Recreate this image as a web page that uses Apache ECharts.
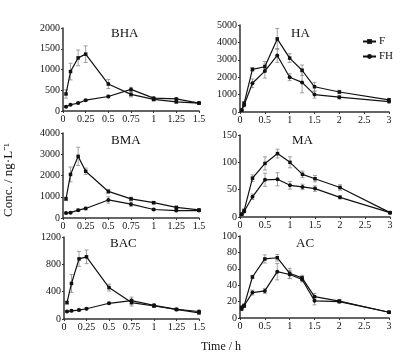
<!DOCTYPE html>
<html><head><meta charset="utf-8">
<script src="https://cdn.jsdelivr.net/npm/echarts@6/dist/echarts.min.js"></script>
<style>html,body{margin:0;padding:0;background:#fff}#c{width:400px;height:356px}</style>
</head><body><div id="c"></div>
<script>
// Time points (h)
const tShort = [0.033, 0.083, 0.167, 0.25, 0.5, 0.75, 1, 1.25, 1.5];
const tLong = [0.033, 0.083, 0.25, 0.5, 0.75, 1, 1.25, 1.5, 2, 3];
const xTicksShort = ['0', '0.25', '0.5', '0.75', '1', '1.25', '1.5'];
const xTicksLong = ['0', '0.5', '1', '1.5', '2', '2.5', '3'];

// BHA
const BHA_F = [410, 950, 1280, 1370, 650, 400, 280, 220, 190];
const BHA_F_sd = [100, 200, 190, 200, 110, 60, 40, 30, 20];
const BHA_FH = [100, 150, 190, 260, 350, 520, 310, 290, 190];
const BHA_FH_sd = [20, 20, 20, 20, 30, 50, 30, 30, 20];
// HA
const HA_F = [100, 500, 2450, 2600, 4200, 3100, 2400, 1450, 1150, 700];
const HA_F_sd = [50, 100, 100, 300, 600, 250, 300, 250, 100, 80];
const HA_FH = [100, 400, 1650, 2350, 3250, 2000, 1700, 1000, 850, 600];
const HA_FH_sd = [50, 100, 250, 400, 400, 200, 600, 200, 100, 80];
// BMA
const BMA_F = [900, 2050, 2900, 2200, 1250, 900, 720, 500, 380];
const BMA_F_sd = [80, 350, 430, 150, 100, 80, 60, 50, 40];
const BMA_FH = [230, 250, 370, 450, 850, 650, 400, 350, 350];
const BMA_FH_sd = [40, 40, 50, 60, 150, 100, 50, 50, 40];
// MA
const MA_F = [5, 12, 71, 98, 116, 100, 78, 70, 54, 8];
const MA_F_sd = [1, 2, 6, 12, 8, 10, 6, 6, 5, 1];
const MA_FH = [5, 10, 37, 68, 69, 58, 55, 52, 36, 8];
const MA_FH_sd = [1, 2, 5, 12, 12, 7, 5, 5, 3, 1];
// BAC
const BAC_F = [240, 520, 880, 910, 460, 240, 190, 140, 90];
const BAC_F_sd = [20, 130, 110, 100, 50, 50, 20, 15, 15];
const BAC_FH = [110, 120, 130, 150, 230, 270, 200, 140, 110];
const BAC_FH_sd = [15, 15, 15, 15, 15, 50, 20, 15, 15];
// AC
const AC_F = [13, 15, 50, 72, 73.5, 54.5, 49, 26, 20.5, 7];
const AC_F_sd = [2, 2, 2, 5, 4, 6, 3, 4, 2, 1];
const AC_FH = [11, 15, 31, 33, 56.5, 53, 47, 21, 20, 7];
const AC_FH_sd = [2, 2, 3, 3, 10, 5, 3, 5, 2, 1];

const titles = ['BHA', 'HA', 'BMA', 'MA', 'BAC', 'AC'];
const yMax = [2000, 5000, 4000, 150, 1200, 100];
const yStep = [500, 1000, 1000, 50, 400, 20];

const panels = [
  {t: tShort, F: BHA_F, Fs: BHA_F_sd, H: BHA_FH, Hs: BHA_FH_sd},
  {t: tLong, F: HA_F, Fs: HA_F_sd, H: HA_FH, Hs: HA_FH_sd},
  {t: tShort, F: BMA_F, Fs: BMA_F_sd, H: BMA_FH, Hs: BMA_FH_sd},
  {t: tLong, F: MA_F, Fs: MA_F_sd, H: MA_FH, Hs: MA_FH_sd},
  {t: tShort, F: BAC_F, Fs: BAC_F_sd, H: BAC_FH, Hs: BAC_FH_sd},
  {t: tLong, F: AC_F, Fs: AC_F_sd, H: AC_FH, Hs: AC_FH_sd}
];

const grids = [
  {left: 63, top: 28, width: 136, height: 83},
  {left: 240, top: 25, width: 149, height: 87},
  {left: 63, top: 133, width: 136, height: 85},
  {left: 240, top: 135, width: 150, height: 82},
  {left: 64, top: 237, width: 135, height: 82},
  {left: 240, top: 236, width: 149, height: 82}
];
const titlePos = [[131, 35], [311, 35], [131, 142], [312, 142], [130, 245], [316, 245]];

const FONT = 'Liberation Serif';
const axisLine = {show: true, lineStyle: {color: '#333', width: 1.5}};

const xAxes = [], yAxes = [], series = [], graphics = [];
panels.forEach((p, i) => {
  const short = (i % 2 === 0);
  const xMaxV = short ? 1.5 : 3;
  const xInt = short ? 0.25 : 0.5;
  const labels = short ? xTicksShort : xTicksLong;
  xAxes.push({
    type: 'value', gridIndex: i, min: 0, max: xMaxV, interval: xInt,
    axisLine: axisLine, splitLine: {show: false},
    axisTick: {show: true, length: 2, lineStyle: {color: '#333'}},
    axisLabel: {margin: 3, fontFamily: FONT, fontSize: 10, color: '#111',
      formatter: v => labels[Math.round(v / xInt)]}
  });
  yAxes.push({
    type: 'value', gridIndex: i, min: 0, max: yMax[i], interval: yStep[i],
    axisLine: axisLine, splitLine: {show: false},
    axisTick: {show: true, length: 2, lineStyle: {color: '#333'}},
    axisLabel: {margin: 3, fontFamily: FONT, fontSize: 10, color: '#111',
      formatter: v => String(v)}
  });
  const mk = (name, vals, sds, sym) => {
    series.push({
      name: name, type: 'line', xAxisIndex: i, yAxisIndex: i,
      data: p.t.map((x, k) => [x, vals[k]]),
      symbol: sym, symbolSize: sym === 'rect' ? 3.5 : 4,
      lineStyle: {color: '#111', width: 1.2},
      itemStyle: {color: '#111'}, z: 3
    });
    series.push({
      type: 'custom', xAxisIndex: i, yAxisIndex: i, silent: true, z: 2,
      data: p.t.map((x, k) => [x, vals[k], sds[k]]),
      renderItem: (params, api) => {
        const x = api.value(0), y = api.value(1), e = api.value(2);
        const top = api.coord([x, y + e]);
        const bot = api.coord([x, y - e]);
        const st = {stroke: '#8a8a8a', lineWidth: 0.8};
        return {type: 'group', children: [
          {type: 'line', shape: {x1: top[0], y1: top[1], x2: bot[0], y2: bot[1]}, style: st},
          {type: 'line', shape: {x1: top[0] - 2, y1: top[1], x2: top[0] + 2, y2: top[1]}, style: st},
          {type: 'line', shape: {x1: bot[0] - 2, y1: bot[1], x2: bot[0] + 2, y2: bot[1]}, style: st}
        ]};
      }
    });
  };
  mk('F', p.F, p.Fs, 'rect');
  mk('FH', p.H, p.Hs, 'circle');
  graphics.push({type: 'text', left: titlePos[i][0] - 20, top: titlePos[i][1] - 8,
    style: {text: titles[i], font: '13px "Liberation Serif"', fill: '#111', width: 40, align: 'center'}});
});

graphics.push({type: 'text', x: 9, y: 180, rotation: Math.PI / 2,
  style: {text: 'Conc. / ng·L⁻¹', font: '13px "Liberation Serif"', fill: '#111',
    align: 'center', verticalAlign: 'middle'}});
graphics.push({type: 'text', x: 221, y: 347,
  style: {text: 'Time / h', font: '12px "Liberation Serif"', fill: '#111',
    align: 'center', verticalAlign: 'middle'}});

const chart = echarts.init(document.getElementById('c'), null, {renderer: 'canvas'});
chart.setOption({
  animation: false,
  backgroundColor: '#fff',
  grid: grids,
  xAxis: xAxes,
  yAxis: yAxes,
  legend: {data: ['F', 'FH'], orient: 'vertical', left: 357, top: 31, itemWidth: 13, itemHeight: 6,
    itemGap: 4, textStyle: {fontFamily: FONT, fontSize: 11, color: '#111', padding: [0, 0, 0, -2]}},
  graphic: graphics,
  series: series
});
</script></body></html>
